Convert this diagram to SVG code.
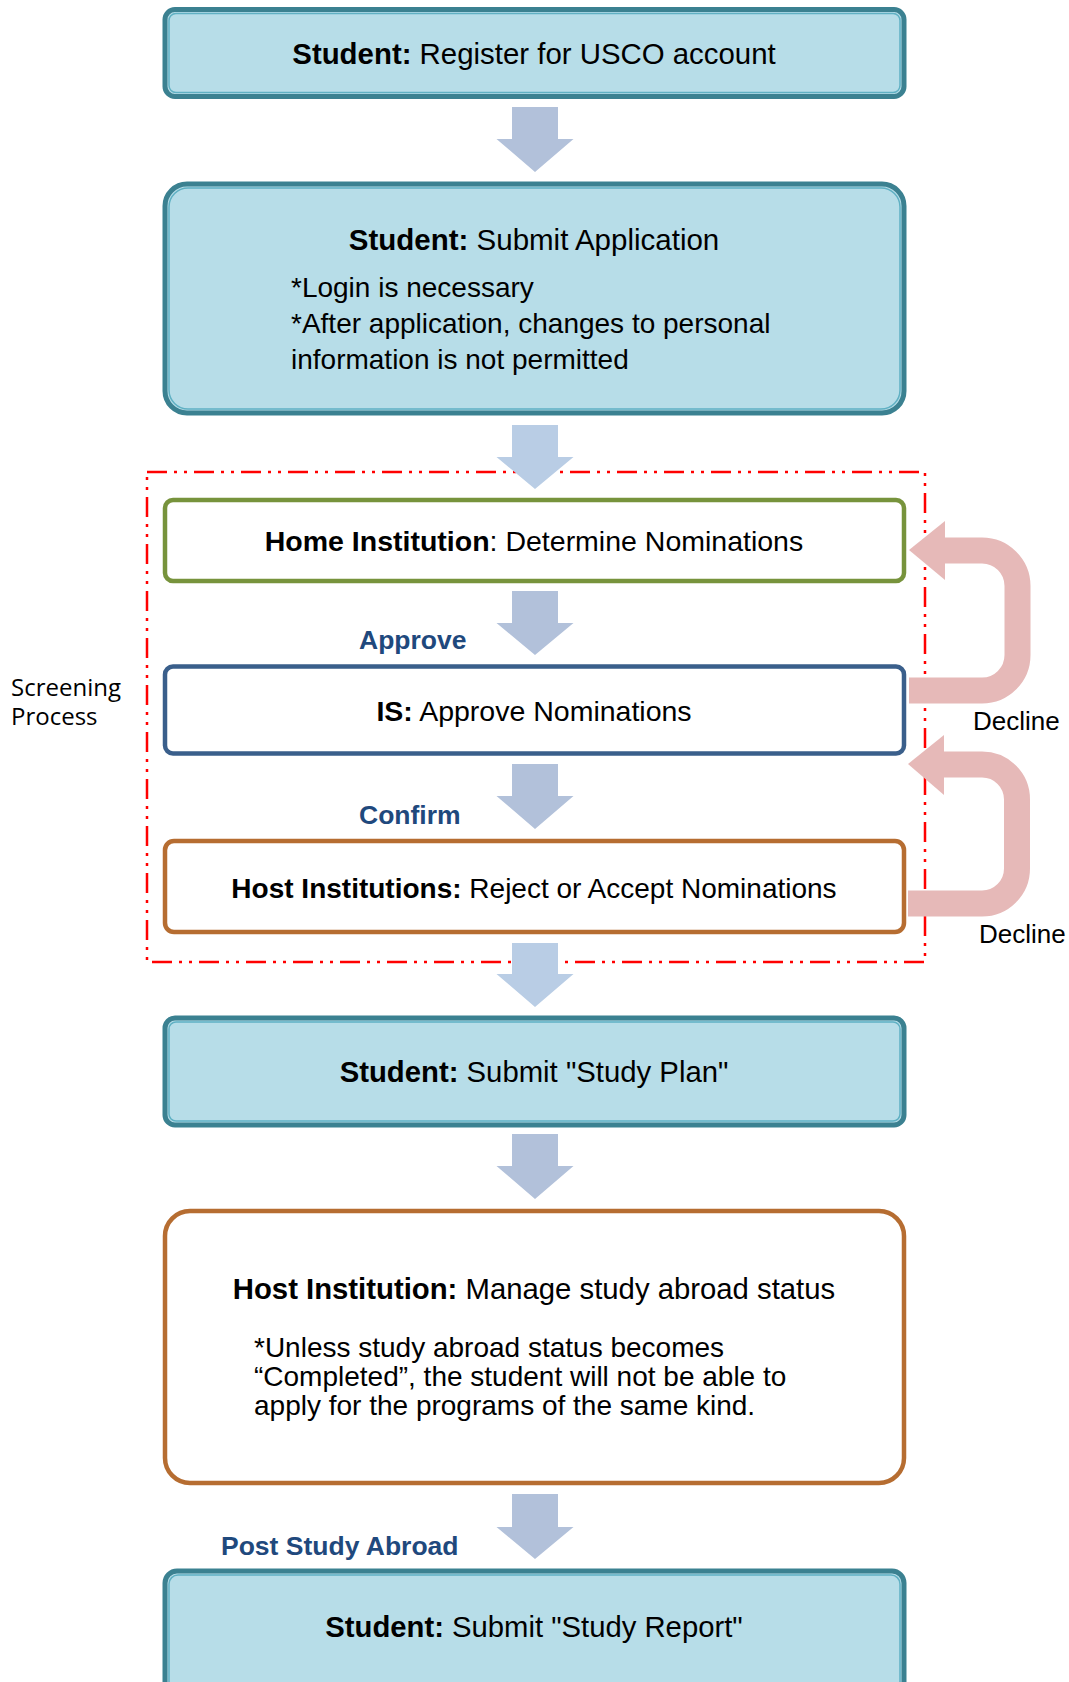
<svg xmlns="http://www.w3.org/2000/svg" width="1069" height="1682" viewBox="0 0 1069 1682">
<defs>
<style>
.t{font-family:"Liberation Sans",Arial,sans-serif;font-size:28.5px;fill:#000;}
.b{font-weight:bold;}
.n{font-family:"Liberation Sans",Arial,sans-serif;font-size:28px;fill:#000;}
.lbl{font-family:"Liberation Sans",Arial,sans-serif;font-size:26.5px;font-weight:bold;fill:#1f497d;}
.dec{font-family:"Liberation Sans",Arial,sans-serif;font-size:26px;fill:#000;}
.scr{font-family:"Open Sans","Noto Sans",sans-serif;font-size:24px;fill:#000;}
.teal{fill:#b7dde8;stroke:#3b8191;stroke-width:5;}
.tealin{fill:none;stroke:#5fb0c3;stroke-width:1.5;}
.green{fill:#fff;stroke:#77933c;stroke-width:4.5;}
.blue{fill:#fff;stroke:#3a5f8b;stroke-width:4.5;}
.orange{fill:#fff;stroke:#b66d31;stroke-width:4.5;}
.arr{fill:#b2c1da;}
.arr2{fill:#b9cde5;}
.pink{fill:none;stroke:#e6b9b8;stroke-width:26;}
.pinkh{fill:#e6b9b8;}
</style>
</defs>
<rect x="0" y="0" width="1069" height="1682" fill="#fff"/>

<g id="screening-frame">
<rect x="147" y="472" width="778" height="490" fill="none" stroke="#ff0000" stroke-width="2.5" stroke-dasharray="20 7 3 7 3 7"/>
<text class="scr" x="11" y="696">Screening</text>
<text class="scr" x="11" y="725">Process</text>
</g>

<g id="connectors">
<polygon class="arr" points="512,107 558,107 558,139 573.5,139 535,172 496.5,139 512,139"/>
<polygon class="arr2" points="512,425 558,425 558,457 573.5,457 535,489 496.5,457 512,457"/>
<polygon class="arr" points="512,591 558,591 558,623 573.5,623 535,655 496.5,623 512,623"/>
<polygon class="arr" points="512,764 558,764 558,796 573.5,796 535,829 496.5,796 512,796"/>
<polygon class="arr2" points="512,943 558,943 558,974 573.5,974 535,1007 496.5,974 512,974"/>
<polygon class="arr" points="512,1134 558,1134 558,1166 573.5,1166 535,1199 496.5,1166 512,1166"/>
<polygon class="arr" points="512,1494 558,1494 558,1527 573.5,1527 535,1559 496.5,1527 512,1527"/>
<path class="pink" d="M 940 550.5 H 982 A 35.5 35.5 0 0 1 1017.5 586 V 655 A 35.5 35.5 0 0 1 982 690.5 H 909"/>
<polygon class="pinkh" points="909,550 945,521 945,580"/>
<path class="pink" d="M 940 764.5 H 982 A 35 35 0 0 1 1017 799.5 V 868.5 A 35 35 0 0 1 982 903.5 H 908"/>
<polygon class="pinkh" points="908,764 944,735 944,795"/>
<text class="lbl" x="359" y="649">Approve</text>
<text class="lbl" x="359" y="824">Confirm</text>
<text class="lbl" x="221" y="1555">Post Study Abroad</text>
<text class="dec" x="973" y="730">Decline</text>
<text class="dec" x="979" y="943">Decline</text>
</g>

<g id="node-register">
<rect class="teal" x="165" y="9.5" width="739" height="87" rx="10"/>
<rect class="tealin" x="169" y="13.5" width="731" height="79" rx="7"/>
<text class="t" x="534" y="64" text-anchor="middle" style="font-size:29.4px"><tspan class="b">Student:</tspan> Register for USCO account</text>
</g>

<g id="node-submit-application">
<rect class="teal" x="165" y="184" width="739" height="229" rx="22"/>
<rect class="tealin" x="169" y="188" width="731" height="221" rx="19"/>
<text class="t" x="534" y="250" text-anchor="middle" style="font-size:29.5px"><tspan class="b">Student:</tspan> Submit Application</text>
<text class="n" x="291" y="297">*Login is necessary</text>
<text class="n" x="291" y="333">*After application, changes to personal</text>
<text class="n" x="291" y="369">information is not permitted</text>
</g>

<g id="node-home-institution">
<rect class="green" x="165" y="500" width="739" height="81" rx="8"/>
<text class="t" x="534" y="551" text-anchor="middle"><tspan class="b">Home Institution</tspan>: Determine Nominations</text>
</g>

<g id="node-is">
<rect class="blue" x="165" y="666.5" width="739" height="87" rx="8"/>
<text class="t" x="534" y="721" text-anchor="middle"><tspan class="b">IS:</tspan> Approve Nominations</text>
</g>

<g id="node-host-institutions">
<rect class="orange" x="165" y="841" width="739" height="91" rx="9"/>
<text class="t" x="534" y="898" text-anchor="middle" style="font-size:28px"><tspan class="b">Host Institutions:</tspan> Reject or Accept Nominations</text>
</g>

<g id="node-study-plan">
<rect class="teal" x="165" y="1018" width="739" height="107" rx="10"/>
<rect class="tealin" x="169" y="1022" width="731" height="99" rx="7"/>
<text class="t" x="534" y="1082" text-anchor="middle" style="font-size:29.3px"><tspan class="b">Student:</tspan> Submit "Study Plan"</text>
</g>

<g id="node-manage-status">
<rect class="orange" x="165" y="1211" width="739" height="272" rx="25"/>
<text class="t" x="534" y="1299" text-anchor="middle" style="font-size:29.3px"><tspan class="b">Host Institution:</tspan> Manage study abroad status</text>
<text class="n" x="254" y="1357">*Unless study abroad status becomes</text>
<text class="n" x="254" y="1386">“Completed”, the student will not be able to</text>
<text class="n" x="254" y="1415">apply for the programs of the same kind.</text>
</g>

<g id="node-study-report">
<rect class="teal" x="165" y="1571" width="739" height="140" rx="12"/>
<rect class="tealin" x="169" y="1575" width="731" height="132" rx="9"/>
<text class="t" x="534" y="1637" text-anchor="middle" style="font-size:29.25px"><tspan class="b">Student:</tspan> Submit "Study Report"</text>
</g>
</svg>
